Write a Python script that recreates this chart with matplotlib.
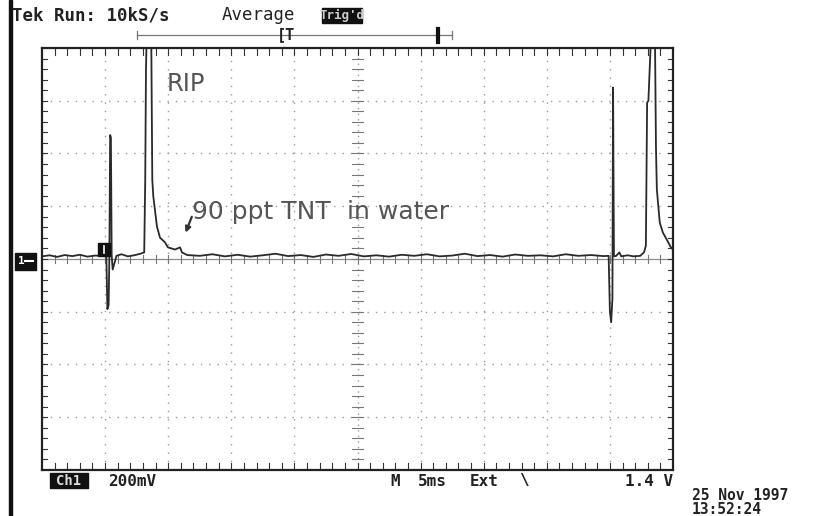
import numpy as np
import matplotlib.pyplot as plt
from matplotlib.patches import Rectangle
from matplotlib.lines import Line2D

# scope trace, time in ms (10 div x 5 ms), voltage in mV (8 div x 200 mV)
t_ms = [0.0, 0.6, 1.2, 1.8, 2.4, 3.0, 3.6, 4.2, 4.8, 5.1,
        5.18, 5.28, 5.34, 5.4, 5.46, 5.52, 5.6, 5.9,
        6.3, 6.8, 7.3, 7.8, 8.1,
        8.18, 8.24, 8.34, 8.5, 8.64, 8.74, 8.82, 9.11, 9.35, 9.75, 9.98,
        10.54, 10.94, 11.09, 11.5,
        12.5, 13.5, 14.5, 15.5, 16.5, 17.5, 18.5, 19.5, 20.5, 21.5,
        22.5, 23.5, 24.5, 25.5, 26.5, 27.5, 28.5, 29.5, 30.5, 31.5,
        32.5, 33.5, 34.5, 35.5, 36.5, 37.5, 38.5, 39.5, 40.5, 41.5,
        42.5, 43.5, 44.5, 44.9,
        45.0, 45.1, 45.2, 45.25, 45.32, 45.5, 45.75, 45.9,
        46.4, 46.9, 47.4, 47.7, 47.85,
        47.95, 48.05, 48.35, 48.55, 48.65, 48.72, 48.95, 49.2, 49.5, 49.8, 50.0]
v_mv = [10, 14, 8, 15, 11, 16, 9, 13, 12, 10,
        -190, -175, 15, 470, 460, 15, -40, 12,
        18, 10, 14, 20, 25,
        300, 720, 950, 950, 950, 300, 237, 123, 81, 63, 44,
        36, 44, 25, 15,
        12, 18, 10, 16, 9, 14, 20, 11, 15, 8,
        17, 12, 19, 10, 14, 9, 16, 12, 18, 10,
        13, 20, 11, 15, 9, 17, 12, 14, 10, 18,
        12, 15, 11, 12,
        -200, -240, -150, 650, 10, 12, 25, 10,
        14, 10, 12, 25, 50,
        593, 600, 950, 950, 425, 264, 138, 100, 74, 47, 35]

# annotation pieces and their left edges (ms)
label_parts = ['90 ppt TNT', 'in water']
label_x = [11.9, 24.15]

W, H = 813, 516


def fx(x):
    return x / W


def fy(y):
    return 1 - y / H


def main():
    fig = plt.figure(figsize=(W / 100, H / 100), dpi=100)
    fig.patch.set_facecolor('white')
    ax = fig.add_axes([fx(42), fy(470), fx(673) - fx(42), fy(48) - fy(470)])
    ax.set_xlim(0, 50)
    ax.set_ylim(-800, 800)
    ax.set_xticks([])
    ax.set_yticks([])
    for s in ax.spines.values():
        s.set_color('#222222')
        s.set_linewidth(1.6)

    grid_col = '#9a9a9a'
    # dotted graticule
    for xv in np.arange(5, 50, 5):
        if xv != 25:
            ax.axvline(xv, color=grid_col, lw=1.0, ls=(0, (1, 5)))
    for yv in np.arange(-600, 800, 200):
        if yv != 0:
            ax.axhline(yv, color=grid_col, lw=1.0, ls=(0, (1, 5)))
    ax.axvline(25, color=grid_col, lw=1.0, ls=(0, (1, 3)))
    ax.axhline(0, color='#8a8a8a', lw=0.9)

    # minor ticks on the centre lines and the borders
    for xv in np.arange(1, 50, 1):
        ax.plot([xv, xv], [-14, 14], color='#777777', lw=0.8)
        ax.plot([xv, xv], [800, 775], color='#333333', lw=0.8)
        ax.plot([xv, xv], [-800, -775], color='#333333', lw=0.8)
    for yv in np.arange(-760, 800, 40):
        ax.plot([24.6, 25.4], [yv, yv], color='#777777', lw=0.8)
        ax.plot([0, 0.4], [yv, yv], color='#333333', lw=0.8)
        ax.plot([49.6, 50], [yv, yv], color='#333333', lw=0.8)

    # trace
    ax.plot(t_ms, v_mv, color='#2a2a2a', lw=1.3, clip_on=True)

    # annotations
    ax.text(9.9, 665, 'RIP', fontsize=17.5, color='#555555',
            family='DejaVu Sans', va='center', ha='left')
    for part, xw in zip(label_parts, label_x):
        ax.text(xw, 180, part, fontsize=18, color='#555555',
                family='DejaVu Sans', va='center', ha='left')
    ax.annotate('', xy=(11.3, 90), xytext=(11.95, 170),
                arrowprops=dict(arrowstyle='-|>', color='#333333', lw=1.6,
                                mutation_scale=8))

    mono = 'DejaVu Sans Mono'
    # header
    fig.text(fx(12), fy(15), 'Tek Run: 10kS/s', fontsize=12.5, family=mono,
             weight='bold', color='#222222', va='center')
    fig.text(fx(222), fy(15), 'Average', fontsize=12.5, family=mono,
             color='#222222', va='center')
    fig.add_artist(Rectangle((fx(322), fy(23)), fx(40), 15 / H,
                             transform=fig.transFigure, color='#111111'))
    fig.text(fx(342), fy(15), "Trig'd", fontsize=9, family=mono,
             weight='bold', color='#cccccc', va='center', ha='center')

    # record bar with trigger position
    fig.add_artist(Line2D([fx(137), fx(452)], [fy(35), fy(35)],
                          color='#777777', lw=0.9))
    for xp in [137, 452]:
        fig.add_artist(Line2D([fx(xp), fx(xp)], [fy(31), fy(39)],
                              color='#777777', lw=0.9))
    fig.text(fx(277), fy(35), '[T', fontsize=11, family=mono,
             weight='bold', color='#222222', va='center')
    fig.add_artist(Line2D([fx(438), fx(438)], [fy(29), fy(42)],
                          color='#111111', lw=3))

    # left frame bar
    fig.add_artist(Rectangle((fx(9), 0), 3 / W, 1,
                             transform=fig.transFigure, color='#111111'))

    # ground marker and trigger level marker
    fig.add_artist(Rectangle((fx(15), fy(270)), fx(21), 17 / H,
                             transform=fig.transFigure, color='#111111'))
    fig.text(fx(21), fy(261), '1', fontsize=8, family=mono, weight='bold',
             color='white', va='center', ha='center')
    fig.add_artist(Line2D([fx(25), fx(33)], [fy(261), fy(261)],
                          color='white', lw=1.5))
    fig.add_artist(Rectangle((fx(98), fy(256)), fx(12), 13 / H,
                             transform=fig.transFigure, color='#111111'))
    fig.add_artist(Line2D([fx(104), fx(104)], [fy(246), fy(253)],
                          color='white', lw=1.2))

    # bottom status line
    fig.add_artist(Rectangle((fx(50), fy(488)), fx(38), 15 / H,
                             transform=fig.transFigure, color='#111111'))
    fig.text(fx(69), fy(481), 'Ch1', fontsize=10, family=mono,
             weight='bold', color='#dddddd', va='center', ha='center')
    fig.text(fx(108), fy(481), '200mV', fontsize=11.5, family=mono,
             weight='bold', color='#222222', va='center')
    fig.text(fx(390), fy(481), 'M', fontsize=11.5, family=mono,
             weight='bold', color='#222222', va='center')
    fig.text(fx(418), fy(481), '5ms', fontsize=11.5, family=mono,
             weight='bold', color='#222222', va='center')
    fig.text(fx(470), fy(481), 'Ext', fontsize=11.5, family=mono,
             weight='bold', color='#222222', va='center')
    fig.text(fx(519), fy(481), '\\', fontsize=11.5, family=mono,
             weight='bold', color='#222222', va='center')
    fig.text(fx(625), fy(481), '1.4 V', fontsize=11.5, family=mono,
             weight='bold', color='#222222', va='center')
    fig.text(fx(692), fy(495), '25 Nov 1997', fontsize=10.5, family=mono,
             weight='bold', color='#222222', va='center')
    fig.text(fx(692), fy(510), '13:52:24', fontsize=10.5, family=mono,
             weight='bold', color='#222222', va='center')

    fig.savefig('out.png', dpi=100)


if __name__ == "__main__":
    main()
